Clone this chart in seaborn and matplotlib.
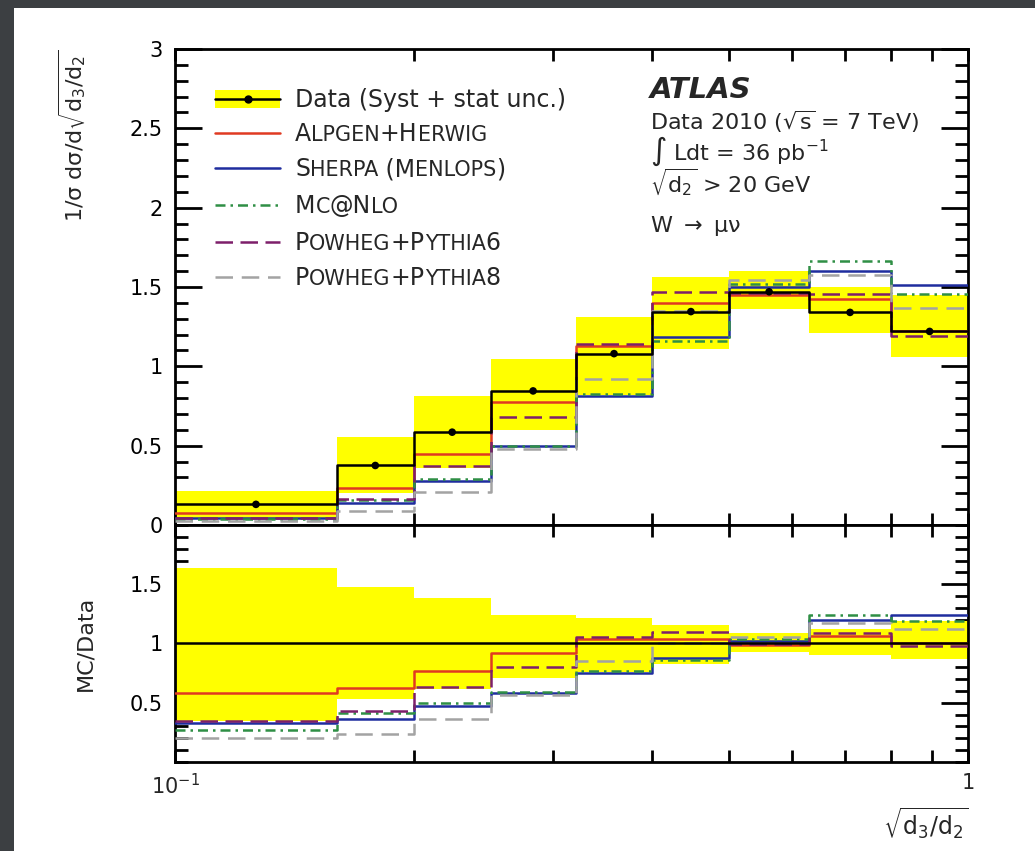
import numpy as np
import pandas as pd
import matplotlib.pyplot as plt
import seaborn as sns
from matplotlib.ticker import FixedLocator, MultipleLocator, FuncFormatter, NullFormatter

# -----------------------------
# DATA
# -----------------------------
bin_edges = [0.1, 0.16, 0.2, 0.25, 0.32, 0.4, 0.5, 0.63, 0.8, 1.0]

data_vals = [0.13, 0.375, 0.585, 0.845, 1.08, 1.345, 1.47, 1.34, 1.22]
data_band_lo = [0.045, 0.20, 0.36, 0.60, 0.82, 1.11, 1.36, 1.21, 1.06]
data_band_hi = [0.213, 0.555, 0.81, 1.045, 1.31, 1.56, 1.60, 1.50, 1.45]

alpgen_herwig = [0.076, 0.235, 0.45, 0.775, 1.125, 1.40, 1.45, 1.425, 1.225]
sherpa = [0.043, 0.137, 0.275, 0.495, 0.815, 1.185, 1.50, 1.60, 1.51]
mcatnlo = [0.035, 0.155, 0.29, 0.50, 0.825, 1.16, 1.52, 1.665, 1.455]
powheg_pythia6 = [0.045, 0.162, 0.37, 0.68, 1.14, 1.47, 1.46, 1.455, 1.19]
powheg_pythia8 = [0.026, 0.09, 0.21, 0.48, 0.92, 1.35, 1.545, 1.575, 1.37]

models = ['Alpgen+Herwig', 'Sherpa', 'Mc@Nlo', 'Powheg+Pythia6', 'Powheg+Pythia8']
model_vals = [alpgen_herwig, sherpa, mcatnlo, powheg_pythia6, powheg_pythia8]

palette = {'Alpgen+Herwig': '#e03a22', 'Sherpa': '#1f2d9e', 'Mc@Nlo': '#2f8f45',
           'Powheg+Pythia6': '#7d1f6a', 'Powheg+Pythia8': '#a3a3a3'}
dash_map = {'Alpgen+Herwig': '', 'Sherpa': '', 'Mc@Nlo': (4, 2, 1, 2),
            'Powheg+Pythia6': (7, 3), 'Powheg+Pythia8': (7, 3.5)}

# -----------------------------
# BUILD TABLES
# -----------------------------
edges = np.array(bin_edges)
data = np.array(data_vals)
centers = np.sqrt(edges[:-1] * edges[1:])

def ext(v):
    v = np.asarray(v, dtype=float)
    return np.append(v, v[-1])

rows = []
for name, vals in zip(models, model_vals):
    for x, y, r in zip(edges, ext(vals), ext(np.array(vals) / data)):
        rows.append({'x': x, 'y': y, 'ratio': r, 'model': name})
df = pd.DataFrame(rows)

# -----------------------------
# STYLE
# -----------------------------
sns.set_theme(style='ticks')
plt.rcParams['font.family'] = ['DejaVu Sans']
plt.rcParams['axes.linewidth'] = 2.0
plt.rcParams['mathtext.default'] = 'regular'

fig = plt.figure(figsize=(10.35, 8.51), dpi=100)
fig.patch.set_facecolor('#3c3f42')
fig.add_artist(plt.Rectangle((14 / 1035, 0), 1, 1 - 8 / 851, transform=fig.transFigure,
                             facecolor='white', edgecolor='none', zorder=-10))

ax_top = fig.add_axes([0.1691, 0.3831, 0.7662, 0.5593])
ax_bot = fig.add_axes([0.1691, 0.1046, 0.7662, 0.2785])

lw = 1.8

# -----------------------------
# TOP PANEL
# -----------------------------
ax_top.fill_between(edges, ext(data_band_lo), ext(data_band_hi), step='post',
                    color='#ffff00', lw=0, zorder=1)
sns.lineplot(data=df, x='x', y='y', hue='model', style='model', palette=palette,
             dashes=dash_map, drawstyle='steps-post', estimator=None, sort=False,
             legend=False, linewidth=lw, ax=ax_top, zorder=3)
sns.lineplot(x=edges, y=ext(data), color='black', drawstyle='steps-post',
             estimator=None, sort=False, linewidth=lw, ax=ax_top, zorder=4)
sns.scatterplot(x=centers, y=data, color='black', s=30, edgecolor='none',
                ax=ax_top, zorder=5)

# -----------------------------
# RATIO PANEL
# -----------------------------
ax_bot.fill_between(edges, ext(np.array(data_band_lo) / data), ext(np.array(data_band_hi) / data),
                    step='post', color='#ffff00', lw=0, zorder=1)
sns.lineplot(data=df, x='x', y='ratio', hue='model', style='model', palette=palette,
             dashes=dash_map, drawstyle='steps-post', estimator=None, sort=False,
             legend=False, linewidth=lw, ax=ax_bot, zorder=3)
ax_bot.axhline(1, color='black', lw=lw, zorder=4)

# -----------------------------
# AXES
# -----------------------------
for ax in (ax_top, ax_bot):
    ax.set_xscale('log')
    ax.set_xlim(0.1, 1.0)
    ax.xaxis.set_major_locator(FixedLocator([0.1, 1.0]))
    ax.xaxis.set_minor_locator(FixedLocator([0.2, 0.3, 0.4, 0.5, 0.6, 0.7, 0.8, 0.9]))
    ax.xaxis.set_minor_formatter(NullFormatter())
    ax.tick_params(axis='x', which='both', direction='in', top=True, bottom=True,
                   length=8.6, width=2, color='black')
    ax.tick_params(axis='y', which='major', direction='in', left=True, right=True,
                   length=19.4, width=2, labelsize=15, pad=9, colors='black')
    ax.tick_params(axis='y', which='minor', direction='in', left=True, right=True,
                   length=9.4, width=2, color='black')
    ax.set_xlabel('')
    ax.set_ylabel('')
    for s in ax.spines.values():
        s.set_color('black')
        s.set_linewidth(2)

ax_top.set_ylim(0, 3)
ax_top.yaxis.set_major_locator(MultipleLocator(0.5))
ax_top.yaxis.set_minor_locator(MultipleLocator(0.1))
ax_top.yaxis.set_major_formatter(FuncFormatter(lambda v, p: '%g' % v))
ax_top.tick_params(axis='x', labelbottom=False)

ax_bot.set_ylim(0, 2)
ax_bot.yaxis.set_major_locator(FixedLocator([0.5, 1.0, 1.5]))
ax_bot.yaxis.set_minor_locator(MultipleLocator(0.1))
ax_bot.yaxis.set_major_formatter(FuncFormatter(lambda v, p: '%g' % v))
ax_bot.set_xticklabels([r'$10^{-1}$', '1'])
ax_bot.tick_params(axis='x', labelsize=15, pad=8)

fig.text(72 / 1035, 1 - 50 / 851, r'1/$\sigma$ d$\sigma$/d$\sqrt{d_3/d_2}$',
         rotation=90, ha='center', va='top', fontsize=16)
fig.text(85 / 1035, 1 - 643 / 851, 'MC/Data', rotation=90, ha='center', va='center',
         fontsize=16)
fig.text(968 / 1035, 1 - 835 / 851, r'$\sqrt{d_3/d_2}$', ha='right', va='baseline',
         fontsize=17)

# -----------------------------
# LEGEND (drawn by hand, small caps)
# -----------------------------
def frac(ypx):
    return (525 - ypx) / 476

def label(ax, x, y, parts, size):
    t = ax.text(x, y, parts[0][0], transform=ax.transAxes, fontsize=size * parts[0][1],
                ha='left', va='baseline')
    for txt, sc in parts[1:]:
        t = ax.annotate(txt, xy=(1, y), xycoords=(t, ax.transAxes), fontsize=size * sc,
                        ha='left', va='baseline')
    return t

sc = 0.88
fs = 17
hx0, hx1, tx = 0.0504, 0.1324, 0.1513
legend_y = [99, 133, 168, 205, 242, 277]
legend_parts = [
    [('Data (Syst + stat unc.)', 1)],
    [('A', 1), ('LPGEN', sc), ('+H', 1), ('ERWIG', sc)],
    [('S', 1), ('HERPA', sc), (' (M', 1), ('ENLOPS', sc), (')', 1)],
    [('M', 1), ('C', sc), ('@N', 1), ('LO', sc)],
    [('P', 1), ('OWHEG', sc), ('+P', 1), ('YTHIA', sc), ('6', 1)],
    [('P', 1), ('OWHEG', sc), ('+P', 1), ('YTHIA', sc), ('8', 1)],
]

yc = frac(legend_y[0])
ax_top.add_patch(plt.Rectangle((hx0, yc - 9 / 476), hx1 - hx0, 18 / 476, transform=ax_top.transAxes,
                               facecolor='#ffff00', edgecolor='none', zorder=2))
ax_top.plot([hx0, hx1], [yc, yc], transform=ax_top.transAxes, color='black', lw=lw, zorder=3)
ax_top.plot([(hx0 + hx1) / 2], [yc], transform=ax_top.transAxes, marker='o', ms=5,
            color='black', zorder=4)
label(ax_top, tx, yc - 8 / 476, legend_parts[0], fs)

for name, ypx, parts in zip(models, legend_y[1:], legend_parts[1:]):
    yc = frac(ypx)
    ln, = ax_top.plot([hx0, hx1], [yc, yc], transform=ax_top.transAxes, color=palette[name], lw=lw)
    if dash_map[name]:
        ln.set_dashes(dash_map[name])
    label(ax_top, tx, yc - 8 / 476, parts, fs)

# -----------------------------
# ATLAS LABEL
# -----------------------------
ax_x = (650 - 175) / 793
ax_top.text(ax_x, frac(98), 'ATLAS', transform=ax_top.transAxes, fontsize=21,
            fontweight='bold', fontstyle='italic', va='baseline')
ax_top.text(ax_x, frac(130), r'Data 2010 ($\sqrt{s}$ = 7 TeV)', transform=ax_top.transAxes,
            fontsize=16, va='baseline')
ax_top.text(ax_x, frac(160), r'$\int$ Ldt = 36 pb$^{-1}$', transform=ax_top.transAxes,
            fontsize=16, va='baseline')
ax_top.text(ax_x, frac(193), r'$\sqrt{d_2}$ > 20 GeV', transform=ax_top.transAxes,
            fontsize=16, va='baseline')
ax_top.text(ax_x, frac(232), r'W $\rightarrow$ $\mu\nu$', transform=ax_top.transAxes,
            fontsize=16, va='baseline')

fig.savefig('out.png', dpi=100, facecolor=fig.get_facecolor())
